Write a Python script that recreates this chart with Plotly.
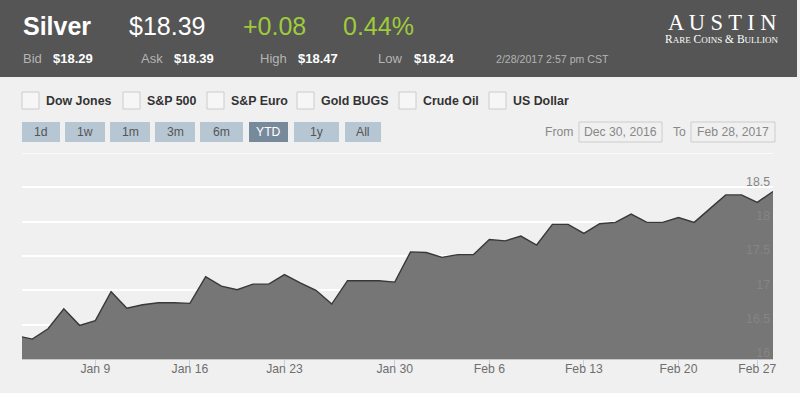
import plotly.graph_objects as go

# ---------------- data ----------------
dates = ["Jan 3", "Jan 4", "Jan 5", "Jan 6", "Jan 8", "Jan 9", "Jan 10", "Jan 11", "Jan 12",
         "Jan 13", "Jan 15", "Jan 16", "Jan 17", "Jan 18", "Jan 19", "Jan 20", "Jan 22",
         "Jan 23", "Jan 24", "Jan 25", "Jan 26", "Jan 27", "Jan 28", "Jan 29", "Jan 30",
         "Jan 31", "Feb 1", "Feb 2", "Feb 3", "Feb 5", "Feb 6", "Feb 7", "Feb 8", "Feb 9",
         "Feb 10", "Feb 12", "Feb 13", "Feb 14", "Feb 15", "Feb 16", "Feb 17", "Feb 19",
         "Feb 20", "Feb 21", "Feb 22", "Feb 23", "Feb 24", "Feb 27", "Feb 28"]
prices = [16.34, 16.29, 16.44, 16.73, 16.49, 16.56, 16.98, 16.74, 16.79,
          16.82, 16.82, 16.81, 17.20, 17.06, 17.01, 17.09, 17.09,
          17.23, 17.11, 17.00, 16.80, 17.14, 17.14, 17.14, 17.12,
          17.56, 17.55, 17.48, 17.52, 17.52, 17.74, 17.72, 17.79, 17.66,
          17.96, 17.96, 17.83, 17.97, 17.99, 18.11, 17.99, 17.99,
          18.06, 17.99, 18.19, 18.39, 18.39, 18.28, 18.44]
x_tick_labels = ["Jan 9", "Jan 16", "Jan 23", "Jan 30", "Feb 6", "Feb 13", "Feb 20", "Feb 27"]
y_tick_values = [16, 16.5, 17, 17.5, 18, 18.5, 19]
y_tick_text = ["16", "16.5", "17", "17.5", "18", "18.5", ""]

quote = {"name": "Silver", "price": "$18.39", "change": "+0.08", "pct": "0.44%",
         "bid": "$18.29", "ask": "$18.39", "high": "$18.47", "low": "$18.24",
         "time": "2/28/2017 2:57 pm CST"}
compare_items = ["Dow Jones", "S&P 500", "S&P Euro", "Gold BUGS", "Crude Oil", "US Dollar"]
range_buttons = ["1d", "1w", "1m", "3m", "6m", "YTD", "1y", "All"]
selected_button = "YTD"
date_from = "Dec 30, 2016"
date_to = "Feb 28, 2017"

# ---------------- layout helpers ----------------
W, H = 800, 393
ML, MR, MT, MB = 22, 27, 153, 34
PW = W - ML - MR
PH = H - MT - MB
FONT = "Arial, Liberation Sans, sans-serif"
SERIF = "Liberation Serif, Times New Roman, serif"
BG = "#f0f0f0"


def fx(px):
    return (px - ML) / PW


def fy(py):
    return (H - MB - py) / PH


shapes = []
annotations = []


def rect(x0, y0, x1, y1, fill, line=None, lw=1):
    shapes.append(dict(type="rect", xref="paper", yref="paper",
                       x0=fx(x0), x1=fx(x1), y0=fy(y1), y1=fy(y0),
                       fillcolor=fill, line=dict(color=line or fill, width=lw if line else 0),
                       layer="above"))


def text(x, y, s, size, color, bold=False, family=FONT, xanchor="left"):
    annotations.append(dict(xref="paper", yref="paper", x=fx(x), y=fy(y), text=("<b>%s</b>" % s) if bold else s,
                            showarrow=False, xanchor=xanchor, yanchor="middle",
                            font=dict(size=size, color=color, family=family)))


# header band
rect(0, 0, 797, 77, "#555555")
text(21, 26, quote["name"], 25, "#ffffff", bold=True)
text(127, 26, quote["price"], 25, "#ffffff")
text(241, 26, quote["change"], 25, "#9fcb3b")
text(341, 26, quote["pct"], 25, "#9fcb3b")

row2 = [("Bid", 21, quote["bid"], 51), ("Ask", 139, quote["ask"], 172),
        ("High", 258, quote["high"], 296), ("Low", 376, quote["low"], 412)]
for lab, lx, val, vx in row2:
    text(lx, 58.5, lab, 13, "#b4b4b4")
    text(vx, 58.5, val, 13, "#ffffff", bold=True)
text(494, 58.5, quote["time"], 10.6, "#b4b4b4")

# logo
text(722, 22, "A U S T I N", 22.5, "#ffffff", family=SERIF, xanchor="center")
small = lambda w: "<span style='font-size:9px'>%s</span>" % w
logo2 = "R" + small("ARE") + " C" + small("OINS") + " &amp; B" + small("ULLION")
text(721.5, 39.5, logo2, 11.5, "#ffffff", family=SERIF, xanchor="center")

# compare checkboxes
box_x = [22, 123, 207, 297, 399, 489]
for bx, lab in zip(box_x, compare_items):
    rect(bx, 92, bx + 17, 109, "#f6f6f6", "#cccccc")
    text(bx + 22, 100.5, lab, 12.4, "#333333", bold=True)

# range buttons
btn_x = [(22, 60), (65, 105), (110, 150), (155, 195), (200, 243), (249, 288), (294, 339), (345, 381)]
for (b0, b1), lab in zip(btn_x, range_buttons):
    sel = lab == selected_button
    rect(b0, 122, b1, 142, "#778a9b" if sel else "#b6c7d3")
    text((b0 + b1) / 2, 132, lab, 12.2, "#ffffff" if sel else "#555555", xanchor="center")

# from / to inputs
text(543, 132, "From", 12.2, "#888888")
rect(579, 122, 662, 142, BG, "#cccccc")
text(620.5, 132, date_from, 12.2, "#888888", xanchor="center")
text(671, 132, "To", 12.2, "#888888")
rect(691, 122, 775, 142, BG, "#cccccc")
text(733, 132, date_to, 12.2, "#888888", xanchor="center")

# top grid line (at range edge)
shapes.append(dict(type="line", xref="paper", yref="y", x0=0, x1=1,
                   y0=y_tick_values[-1], y1=y_tick_values[-1],
                   line=dict(color="#ffffff", width=1.5), layer="below"))

# ---------------- figure ----------------
fig = go.Figure()
fig.add_trace(go.Scatter(x=dates, y=prices, mode="lines", fill="tozeroy",
                         fillcolor="#767676", line=dict(color="#383838", width=1.4),
                         hoverinfo="x+y"))

fig.update_layout(
    width=W, height=H,
    margin=dict(l=ML, r=MR, t=MT, b=MB, pad=0),
    paper_bgcolor=BG, plot_bgcolor=BG,
    showlegend=False,
    font=dict(family=FONT),
    shapes=shapes, annotations=annotations,
    xaxis=dict(type="category", range=[0.3464, len(dates) - 1],
               tickmode="array", tickvals=x_tick_labels, ticktext=x_tick_labels,
               showgrid=False, ticks="outside", ticklen=7, tickcolor="#c0d0e0", tickwidth=1,
               showline=True, linecolor="#c8c8c8", linewidth=1,
               tickfont=dict(size=12.2, color="#6e6e6e"), ticklabelstandoff=-9,
               ticklabeloverflow="allow",
               zeroline=False, fixedrange=True),
    yaxis=dict(range=[16, 19], side="right", tickmode="array",
               tickvals=y_tick_values, ticktext=y_tick_text,
               ticklabelposition="inside", ticks="", showgrid=True,
               gridcolor="#ffffff", gridwidth=1.5, zeroline=False,
               tickfont=dict(size=12.3, color="#858585"), ticklabelshift=-6,
               ticklabeloverflow="allow",
               showline=False, fixedrange=True),
)

fig.write_html("out.html", config={"displayModeBar": False},
               post_script="document.body.style.margin='0';document.body.style.overflow='hidden';")
